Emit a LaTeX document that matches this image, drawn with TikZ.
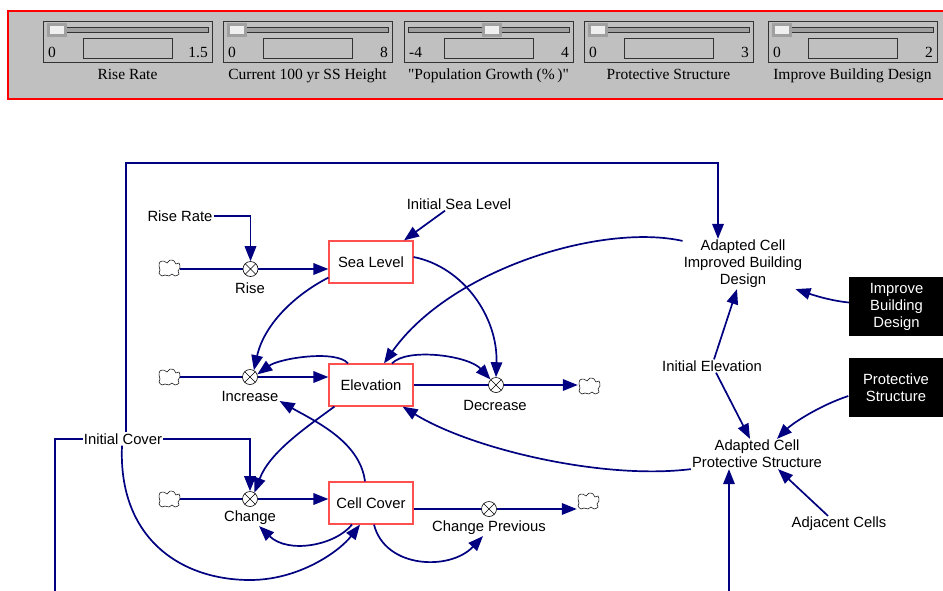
\documentclass[tikz,border=0pt]{standalone}
\usepackage{fontspec}
\setmainfont{Liberation Sans}
\newfontfamily\panelserif{Liberation Serif}
\usetikzlibrary{arrows.meta}

\definecolor{linknavy}{RGB}{0,0,128}
\definecolor{panelgray}{RGB}{192,192,192}
\definecolor{stockred}{RGB}{255,80,80}
\definecolor{thumbgray}{RGB}{160,160,160}
\definecolor{thumbwhite}{RGB}{240,240,240}
\definecolor{framegray}{RGB}{50,50,50}

\tikzset{
  cloudpic/.pic={
    \draw[black,line width=0.5pt,fill=white] plot[smooth cycle,tension=0.7] coordinates
      {(-10,-2) (-9,-6) (-5,-7) (-2,-5) (1,-8) (5,-7) (7,-4) (10,-5) (11,0) (9,3)
       (10,6) (6,8) (3,6) (0,8) (-4,7) (-7,8) (-10,5) (-9,2)};
  },
}

\begin{document}
\begin{tikzpicture}[x=1pt,y=-1pt,
  txt/.style={font=\fontsize{14.8}{17}\selectfont,inner sep=1pt,align=center,text=black},
  paneltxt/.style={font=\panelserif\fontsize{15.5}{17}\selectfont,inner sep=0pt,text=black},
  stock/.style={txt,draw=stockred,line width=1.2pt,fill=white,minimum width=84pt,minimum height=42pt,inner sep=0pt},
  valve/.style={circle,draw=black,fill=white,line width=0.6pt,minimum size=15pt,inner sep=0pt,
    path picture={\draw[line width=0.6pt]
      (path picture bounding box.north west)--(path picture bounding box.south east)
      (path picture bounding box.north east)--(path picture bounding box.south west);}},
  srcsink/.style={minimum width=22pt,minimum height=16pt,inner sep=0pt},
  linktip/.style={-{Triangle[length=15pt,width=11.5pt]}},
  link/.style={draw=linknavy,line width=1.7pt,linktip},
  pipe/.style={draw=linknavy,line width=1.8pt},
  ctrlbox/.style={txt,fill=black,text=white,minimum width=95pt,minimum height=59pt,inner sep=0pt},
]
\fill[white] (0,0) rectangle (943,590);
\useasboundingbox (0,0) rectangle (943,590);
\clip (0,0) rectangle (943,590);

% ---------- slider panel ----------
\fill[panelgray] (8,11) rectangle (960,99);
\draw[red,line width=1.6pt] (8,11) rectangle (960,99);
\foreach \xo/\tk/\lo/\hi/\nm [count=\i] in
  {43/0/0/1.5/Rise Rate,
   223/0/0/8/Current 100 yr SS Height,
   404/74/-4/4/"Population Growth (\%\,)",
   584/0/0/3/Protective Structure,
   768/0/0/2/Improve Building Design}{
  \draw[framegray,line width=0.8pt] (\xo,21) rectangle (\xo+169,62);
  \draw[framegray,line width=0.8pt,fill=thumbgray] (\xo+4,27) rectangle (\xo+165,32);
  \fill[thumbgray] (\xo+4+\tk,22.5) rectangle (\xo+24+\tk,37);
  \fill[thumbwhite] (\xo+7+\tk,25.5) rectangle (\xo+21+\tk,34);
  \draw[framegray,line width=0.8pt] (\xo+40,38) rectangle (\xo+129,58);
  \node[paneltxt,anchor=base west] (lo\i) at (\xo+5,57.5) {\lo};
  \node[paneltxt,anchor=base east] (hi\i) at (\xo+165,57.5) {\hi};
  \node[paneltxt,anchor=base] (name\i) at (\xo+84.5,79) {\nm};
}

% ---------- stocks ----------
\node[stock] (sealevel) at (371,262) {Sea Level};
\node[stock] (elev) at (371,385) {Elevation};
\node[stock] (cellcover) at (371,503) {Cell Cover};

% ---------- sources and sinks ----------
\node[srcsink] (src1) at (169,268) {}; \pic at (src1) {cloudpic};
\node[srcsink] (src2) at (169,377) {}; \pic at (src2) {cloudpic};
\node[srcsink] (src3) at (169,499) {}; \pic at (src3) {cloudpic};
\node[srcsink] (sink1) at (589,386) {}; \pic at (sink1) {cloudpic};
\node[srcsink] (sink2) at (588,501) {}; \pic at (sink2) {cloudpic};

% ---------- pipes ----------
\draw[pipe] (src1.east |- 0,269) -- (250.5,269);
\draw[pipe] (src2.east |- 0,377) -- (250,377);
\draw[pipe] (src3.east |- 0,499) -- (250,499);
\draw[pipe] (elev.east |- 0,385) -- (496,385);
\draw[pipe] (cellcover.east |- 0,509) -- (489,509);

% ---------- valves ----------
\node[valve] (rise) at (250.5,269) {};
\node[txt] (riselbl) at (250,288) {Rise};
\node[valve] (incr) at (250,377) {};
\node[txt] (incrlbl) at (250,396) {Increase};
\node[valve] (decr) at (496,385) {};
\node[txt] (decrlbl) at (495,405) {Decrease};
\node[valve] (chg) at (250,499) {};
\node[txt] (chglbl) at (250,518) {Change};
\node[valve] (chgprev) at (489,509) {};
\node[txt] (chgprevlbl) at (489,528) {Change Previous};

\draw[pipe,linktip] (rise.east) -- (sealevel.west |- rise.east);
\draw[pipe,linktip] (incr.east) -- (elev.west |- incr.east);
\draw[pipe,linktip] (decr.east) -- (sink1.west |- decr.east);
\draw[pipe,linktip] (chg.east) -- (cellcover.west |- chg.east);
\draw[pipe,linktip] (chgprev.east) -- (sink2.west |- chgprev.east);

% ---------- auxiliaries ----------
\node[txt] (riserate) at (180,216) {Rise Rate};
\node[txt] (initsea) at (459,204) {Initial Sea Level};
\node[txt] (initcover) at (123,439) {Initial Cover};
\node[txt] (acibd) at (743,264) {Adapted Cell\\Improved Building\\Design};
\node[txt] (initelev) at (712,366) {Initial Elevation};
\node[txt] (acps) at (757,454) {Adapted Cell\\Protective Structure};
\node[txt] (adj) at (839,524) {Adjacent Cells};
\node[ctrlbox] (ibdbox) at (896.5,306.5) {Improve\\Building\\Design};
\node[ctrlbox] (psbox) at (896,387.5) {Protective\\Structure};

\coordinate (topbend) at (126,163);
\coordinate (bottomleft) at (55,620);
\coordinate (coverloop) at (250,580);

% ---------- links ----------
\draw[link] (riserate.east) -| (rise.north);
\draw[link] ([xshift=-14pt]initsea.south) -- ([xshift=33pt]sealevel.north);

\draw[link] ([xshift=3pt]initcover.north) -- ([xshift=3pt]initcover.north |- topbend)
  -| ([xshift=-25pt]acibd.north);
\draw[link] (initcover.west) -| (bottomleft) -| ([xshift=-28pt]acps.south);
\draw[link] (initcover.east) -| (chg.north);
\draw[link] ([xshift=-1pt]initcover.south) .. controls +(-4,92) and +(-70,0) .. (coverloop)
  .. controls +(50,0) and +(-20,26) .. ([xshift=-11pt]cellcover.south);

\draw[link] ([yshift=6pt]sealevel.south west) .. controls +(-35,18) and +(10,-45) .. (incr.60);
\draw[link] ([xshift=-23pt]elev.north) .. controls +(-12,-14) and +(22,-16) .. (incr.20);
\draw[link] ([yshift=5pt]sealevel.east) .. controls +(50,10) and +(2,-60) .. (decr.north);
\draw[link] ([xshift=21pt]elev.north) .. controls +(15,-16) and +(-22,-24) .. (decr.135);

\draw[link] ([yshift=-2pt]acibd.north west) .. controls +(-81,-18) and +(66,-94) .. ([xshift=13pt]elev.north);
\draw[link] (acps.south west) .. controls +(-89,11) and +(68,42) .. ([xshift=-11pt]elev.south east);

\draw[link] ([xshift=-6pt]cellcover.north) .. controls +(-5,-40) and +(35,20) .. ([yshift=-5pt]incrlbl.east);
\draw[link] ([xshift=6pt]elev.south west) .. controls +(-30,22) and +(15,-40) .. (chg.55);
\draw[link] ([xshift=-19pt]cellcover.south) .. controls +(-17,21) and +(29,28) .. ([xshift=-18pt]chglbl.south east);
\draw[link] ([xshift=3pt]cellcover.south) .. controls +(11,44) and +(-33,35) .. ([xshift=-6pt]chgprevlbl.south);

\draw[link] ([yshift=4pt]ibdbox.west) .. controls +(-20,-2) and +(15,5) .. ([xshift=-8pt]acibd.south east);
\draw[link] ([xshift=2pt]initelev.north) -- ([xshift=-6pt]acibd.south);
\draw[link] ([xshift=4pt]initelev.south) -- ([xshift=-7pt]acps.north);
\draw[link] ([yshift=-8.5pt]psbox.west) .. controls +(-30,10) and +(15,-15) .. ([xshift=20pt]acps.north);
\draw[link] ([xshift=-11pt]adj.north) -- ([xshift=21pt]acps.south);
\end{tikzpicture}
\end{document}
